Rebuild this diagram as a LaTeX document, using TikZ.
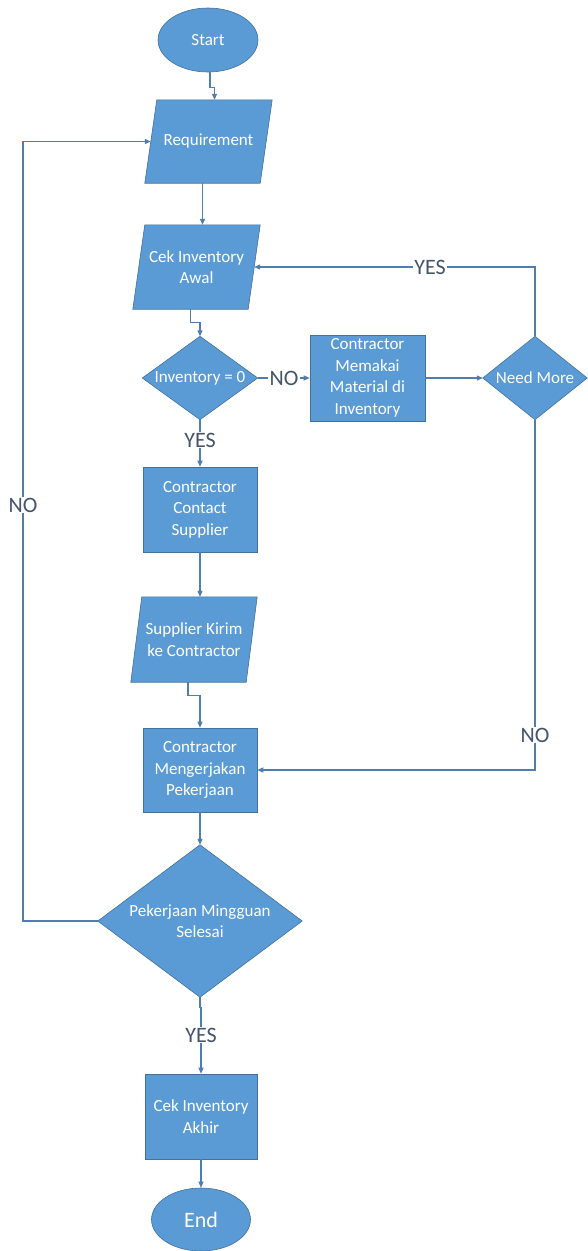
\documentclass[tikz,border=0pt]{standalone}
\usepackage{fontspec}
\setmainfont{Carlito}
\usetikzlibrary{shapes.geometric,arrows.meta,backgrounds,calc}
\definecolor{shapeblue}{HTML}{5B9BD5}
\definecolor{edgeblue}{HTML}{41719C}
\definecolor{lineblue}{HTML}{4F7DAE}
\definecolor{labelgray}{HTML}{44546A}
\begin{document}
\begin{tikzpicture}[x=1pt,y=-1pt,
  txt/.style={text=white, align=center, font=\fontsize{17}{21.5}\selectfont, inner sep=0pt},
  box/.style={txt, rectangle, fill=shapeblue, draw=edgeblue, line width=0.6pt},
  oval/.style={txt, ellipse, fill=shapeblue, draw=edgeblue, line width=0.6pt},
  bare/.style={txt, rectangle},
  shapefill/.style={fill=shapeblue, draw=edgeblue, line width=0.6pt},
  lbl/.style={fill=white, text=labelgray, font=\fontsize{22}{24}\selectfont, inner sep=1pt},
  conn/.style={draw=lineblue, line width=1.1pt},
  arr/.style={conn, -{Triangle[length=6pt,width=5pt]}},
]
\useasboundingbox (0,0) rectangle (587,1251);

% nodes
\node[oval, minimum width=100pt, minimum height=64pt] (start) at (208,40) {Start};
\node[bare, minimum width=115pt, minimum height=83pt] (req) at (208.5,141.5) {Requirement};
\node[bare, minimum width=115pt, minimum height=84pt] (cia) at (196.5,267) {Cek Inventory\\Awal};
\node[bare, minimum width=115pt, minimum height=83pt] (d1) at (200,378) {Inventory = 0};
\node[box, minimum width=115pt, minimum height=86pt] (cmm) at (367.5,378) {Contractor\\Memakai\\Material di\\Inventory};
\node[bare, minimum width=104pt, minimum height=83pt] (nm) at (535,378) {Need More};
\node[box, minimum width=114pt, minimum height=85pt] (ccs) at (200,509.5) {Contractor\\Contact\\Supplier};
\node[bare, minimum width=115pt, minimum height=85pt] (ski) at (194,639.5) {Supplier Kirim\\ke Contractor};
\node[box, minimum width=114pt, minimum height=84pt] (cmp) at (200,770) {Contractor\\Mengerjakan\\Pekerjaan};
\node[bare, minimum width=204pt, minimum height=152pt] (pm) at (200,921) {Pekerjaan Mingguan\\Selesai};
\node[box, minimum width=112pt, minimum height=85pt] (cia2) at (201,1116.5) {Cek Inventory\\Akhir};
\node[oval, minimum width=99pt, minimum height=63pt, font=\fontsize{22}{24}\selectfont] (end) at (201,1219.5) {End};

% labels
\node[lbl] (no1) at (284,378) {NO};
\node[lbl] (yes2) at (430,267) {YES};
\node[lbl] (yes1) at (200,440) {YES};
\node[lbl] (no3) at (535,735) {NO};
\node[lbl] (no4) at (23,505) {NO};
\node[lbl] (yes3) at (201,1035) {YES};

% shape fills
\begin{scope}[on background layer]
\fill[white] (0,0) rectangle (587,1251);
\path[shapefill] ($(req.north west)+(6,0)$) -- ($(req.north east)+(6,0)$) -- ($(req.south east)+(-6,0)$) -- ($(req.south west)+(-6,0)$) -- cycle;
\path[shapefill] ($(cia.north west)+(6,0)$) -- ($(cia.north east)+(6,0)$) -- ($(cia.south east)+(-6,0)$) -- ($(cia.south west)+(-6,0)$) -- cycle;
\path[shapefill] ($(ski.north west)+(5.5,0)$) -- ($(ski.north east)+(5.5,0)$) -- ($(ski.south east)+(-5.5,0)$) -- ($(ski.south west)+(-5.5,0)$) -- cycle;
\path[shapefill] (d1.north) -- (d1.east) -- (d1.south) -- (d1.west) -- cycle;
\path[shapefill] (nm.north) -- (nm.east) -- (nm.south) -- (nm.west) -- cycle;
\path[shapefill] (pm.north) -- (pm.east) -- (pm.south) -- (pm.west) -- cycle;
\end{scope}

% connectors
\draw[arr] ([xshift=2pt]start.south) -- ++(0,15) -| ([xshift=6pt]req.north);
\draw[arr] ([xshift=-6pt]req.south) -- ([xshift=6pt]cia.north);
\draw[arr] ([xshift=-6pt]cia.south) -- ++(0,13) -| (d1.north);
\draw[conn] (d1.east) -- (no1.west);
\draw[arr] (no1.east) -- (cmm.west);
\draw[arr] (cmm.east) -- (nm.west);
\draw[conn] (nm.north) |- (yes2.east);
\draw[arr] (yes2.west) -- (cia.east);
\draw[conn] (d1.south) -- (yes1.north);
\draw[arr] (yes1.south) -- (ccs.north);
\draw[arr] (ccs.south) -- ([xshift=6pt]ski.north);
\draw[arr] ([xshift=-6pt]ski.south) -- ++(0,13) -| (cmp.north);
\draw[conn] (nm.south) -- (no3.north);
\draw[arr] (no3.south) |- (cmp.east);
\draw[arr] (cmp.south) -- (pm.north);
\draw[conn] (pm.west) -| (no4.south);
\draw[arr] (no4.north) |- (req.west);
\draw[conn] (pm.south) -- ++(0,10) -| (yes3.north);
\draw[arr] (yes3.south) -- (cia2.north);
\draw[arr] (cia2.south) -- (end.north);
\end{tikzpicture}
\end{document}
